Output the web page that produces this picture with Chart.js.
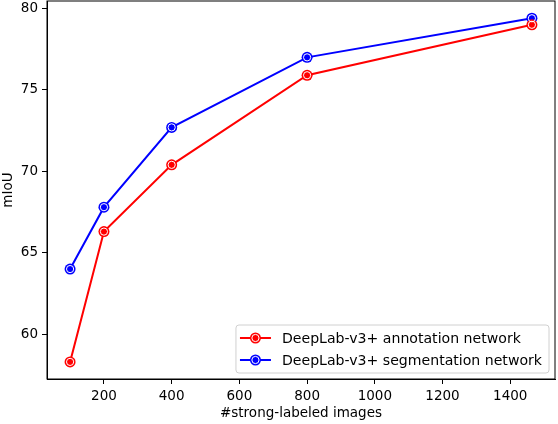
<!DOCTYPE html>
<html>
<head>
<meta charset="utf-8">
<script src="https://cdn.jsdelivr.net/npm/chart.js@4/dist/chart.umd.min.js"></script>
<style>
  html, body { margin: 0; padding: 0; background: #fff; }
  #wrap { width: 558px; height: 424px; }
</style>
</head>
<body>
<div id="wrap"><canvas id="c" width="558" height="424"></canvas></div>
<script>
const imageCounts = [100, 200, 400, 800, 1464];
const annotationNet = [58.3, 66.3, 70.4, 75.9, 79.0];
const segmentationNet = [64.0, 67.8, 72.7, 77.0, 79.4];
const xTicks = [200, 400, 600, 800, 1000, 1200, 1400];
const yTicks = [60, 65, 70, 75, 80];

const FONT = { family: '"DejaVu Sans", sans-serif', size: 13.5 };
const LEGEND_SIZE = 14.1;

function points(values) {
  return imageCounts.map((x, i) => ({ x: x, y: values[i] }));
}

// white ring inside each marker, like the matplotlib markers
function drawRing(ctx, x, y) {
  ctx.beginPath();
  ctx.arc(x, y, 3.6, 0, Math.PI * 2);
  ctx.strokeStyle = '#fff';
  ctx.lineWidth = 1;
  ctx.stroke();
}

const framePlugin = {
  id: 'frame',
  beforeDatasetsDraw(chart) {
    const a = chart.chartArea, ctx = chart.ctx;
    ctx.save();
    ctx.strokeStyle = '#000';
    ctx.lineWidth = 1;
    ctx.strokeRect(a.left, a.top, a.right - a.left, a.bottom - a.top);
    ctx.restore();
  }
};

const markerPlugin = {
  id: 'markerRings',
  afterDatasetsDraw(chart) {
    const ctx = chart.ctx;
    ctx.save();
    chart.data.datasets.forEach((ds, i) => {
      chart.getDatasetMeta(i).data.forEach(el => drawRing(ctx, el.x, el.y));
    });
    ctx.restore();
  }
};

const legendPlugin = {
  id: 'innerLegend',
  afterDatasetsDraw(chart) {
    const ctx = chart.ctx, a = chart.chartArea;
    const sets = chart.data.datasets;
    ctx.save();
    ctx.font = LEGEND_SIZE + 'px ' + FONT.family;
    const textW = Math.max(...sets.map(d => ctx.measureText(d.label).width));
    const rowH = 22;
    const w = 46 + textW + 7, h = sets.length * rowH + 4;
    const x0 = a.right - 6 - w, y0 = a.bottom - 6 - h;

    ctx.beginPath();
    ctx.roundRect(x0, y0, w, h, 3);
    ctx.fillStyle = 'rgba(255,255,255,0.8)';
    ctx.fill();
    ctx.strokeStyle = '#d0d0d0';
    ctx.lineWidth = 1;
    ctx.stroke();

    sets.forEach((d, i) => {
      const y = y0 + 13 + i * rowH;
      ctx.beginPath();
      ctx.moveTo(x0 + 4, y);
      ctx.lineTo(x0 + 35, y);
      ctx.strokeStyle = d.borderColor;
      ctx.lineWidth = 2;
      ctx.stroke();
      ctx.beginPath();
      ctx.arc(x0 + 19.5, y, 5.5, 0, Math.PI * 2);
      ctx.fillStyle = d.borderColor;
      ctx.fill();
      drawRing(ctx, x0 + 19.5, y);
      ctx.fillStyle = '#000';
      ctx.textBaseline = 'middle';
      ctx.fillText(d.label, x0 + 46, y + 1);
    });
    ctx.restore();
  }
};

function axis(min, max, tickList, title, fit) {
  return {
    type: 'linear',
    min: min,
    max: max,
    afterBuildTicks: s => { s.ticks = tickList.map(v => ({ value: v })); },
    afterFit: s => {
      fit(s);
      s.paddingTop = 0; s.paddingBottom = 0; s.paddingLeft = 0; s.paddingRight = 0;
    },
    ticks: { font: FONT, color: '#000', padding: 4, maxRotation: 0, autoSkip: false,
             callback: v => String(v) },
    grid: { drawOnChartArea: false, tickLength: 5, tickColor: '#000', tickWidth: 1 },
    border: { display: true, color: '#000', width: 1 },
    title: { display: true, text: title, font: FONT, color: '#000', padding: { top: 0, bottom: 2 } }
  };
}

new Chart(document.getElementById('c'), {
  type: 'line',
  data: {
    datasets: [
      {
        label: 'DeepLab-v3+ annotation network',
        data: points(annotationNet),
        borderColor: '#ff0000',
        backgroundColor: '#ff0000',
        borderWidth: 2,
        pointRadius: 5.5,
        pointBorderWidth: 0,
        tension: 0
      },
      {
        label: 'DeepLab-v3+ segmentation network',
        data: points(segmentationNet),
        borderColor: '#0000ff',
        backgroundColor: '#0000ff',
        borderWidth: 2,
        pointRadius: 5.5,
        pointBorderWidth: 0,
        tension: 0
      }
    ]
  },
  options: {
    responsive: false,
    animation: false,
    layout: { autoPadding: false, padding: { top: 1, right: 3, left: 0, bottom: 0 } },
    plugins: { legend: { display: false }, tooltip: { enabled: false } },
    scales: {
      x: axis(31.8, 1532.2, xTicks, '#strong-labeled images', s => { s.height = 45; }),
      y: axis(57.25, 80.46, yTicks, 'mIoU', s => { s.width = 47; })
    }
  },
  plugins: [framePlugin, markerPlugin, legendPlugin]
});
</script>
</body>
</html>
